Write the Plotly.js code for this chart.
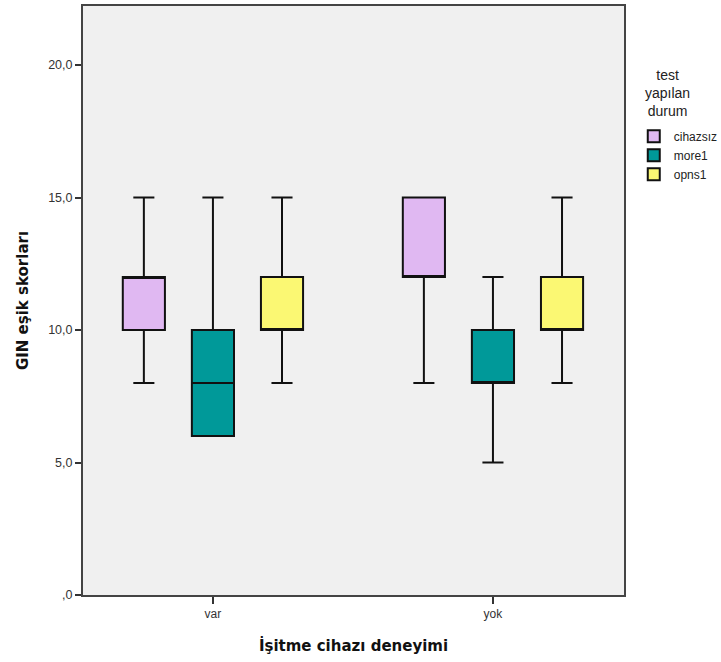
<!DOCTYPE html>
<html>
<head>
<meta charset="utf-8">
<script src="https://cdn.plot.ly/plotly-3.0.1.min.js"></script>
<style>html,body{margin:0;padding:0;background:#fff;}</style>
</head>
<body>
<div id="chart" style="width:721px;height:662px;"></div>
<script>
var categories = ['var', 'yok'];
var seriesNames = ['cihazsız', 'more1', 'opns1'];

var cihazsizLower = [8, 8];
var cihazsizQ1 = [10, 12];
var cihazsizMedian = [12, 12];
var cihazsizQ3 = [12, 15];
var cihazsizUpper = [15, 15];

var more1Lower = [6, 5];
var more1Q1 = [6, 8];
var more1Median = [8, 8];
var more1Q3 = [10, 10];
var more1Upper = [15, 12];

var opns1Lower = [8, 8];
var opns1Q1 = [10, 10];
var opns1Median = [10, 10];
var opns1Q3 = [12, 12];
var opns1Upper = [15, 15];

var yTickVals = [0, 5, 10, 15, 20];
var yTickText = [',0', '5,0', '10,0', '15,0', '20,0'];

var colors = ['#E0B8F2', '#009999', '#FBF873'];

function mk(name, lf, q1, med, q3, uf, color) {
  return {
    type: 'box',
    name: name,
    x: categories,
    lowerfence: lf,
    q1: q1,
    median: med,
    q3: q3,
    upperfence: uf,
    boxpoints: false,
    fillcolor: color,
    whiskerwidth: 0.5,
    line: {color: '#111111', width: 2},
    hoverinfo: 'skip'
  };
}

var data = [
  mk(seriesNames[0], cihazsizLower, cihazsizQ1, cihazsizMedian, cihazsizQ3, cihazsizUpper, colors[0]),
  mk(seriesNames[1], more1Lower, more1Q1, more1Median, more1Q3, more1Upper, colors[1]),
  mk(seriesNames[2], opns1Lower, opns1Q1, opns1Median, opns1Q3, opns1Upper, colors[2])
];

var layout = {
  width: 721,
  height: 662,
  margin: {l: 83, r: 97, t: 6, b: 67, autoexpand: false},
  paper_bgcolor: '#ffffff',
  plot_bgcolor: '#F0F0F0',
  boxmode: 'group',
  boxgap: 0.26,
  boxgroupgap: 0.39,
  font: {family: 'Liberation Sans, Arial, sans-serif', size: 12, color: '#222'},
  xaxis: {
    type: 'category',
    range: [-0.464, 1.468],
    automargin: false,
    showline: true,
    linecolor: '#444',
    linewidth: 2,
    mirror: true,
    ticks: 'outside',
    ticklen: 7,
    tickwidth: 2,
    tickcolor: '#333',
    showgrid: false,
    zeroline: false,
    tickfont: {size: 12, color: '#333'},
    title: {text: 'İşitme cihazı deneyimi', font: {family: 'DejaVu Sans, sans-serif', size: 15, color: '#111', weight: 'bold'}, standoff: 20}
  },
  yaxis: {
    range: [0, 22.23],
    automargin: false,
    tickvals: yTickVals,
    ticktext: yTickText,
    showline: true,
    linecolor: '#444',
    linewidth: 2,
    mirror: true,
    ticks: 'outside',
    ticklen: 6,
    tickwidth: 2,
    tickcolor: '#333',
    showgrid: false,
    zeroline: false,
    tickfont: {size: 12.5, color: '#333'},
    title: {text: 'GIN eşik skorları', font: {family: 'DejaVu Sans, sans-serif', size: 15, color: '#111', weight: 'bold'}, standoff: 16}
  },
  showlegend: true,
  legend: {
    xref: 'container',
    yref: 'container',
    x: 0.879,
    xanchor: 'left',
    y: 0.816,
    yanchor: 'top',
    bgcolor: 'rgba(0,0,0,0)',
    font: {size: 12, color: '#222'},
    tracegroupgap: 0,
    itemwidth: 30
  },
  annotations: [{
    xref: 'paper', yref: 'paper',
    x: 1.0795, y: 0.9,
    xanchor: 'center', yanchor: 'top',
    showarrow: false,
    align: 'center',
    text: 'test<br>yapılan<br>durum',
    font: {size: 14, color: '#222'}
  }]
};

Plotly.newPlot('chart', data, layout, {displayModeBar: false, staticPlot: true});
</script>
</body>
</html>
